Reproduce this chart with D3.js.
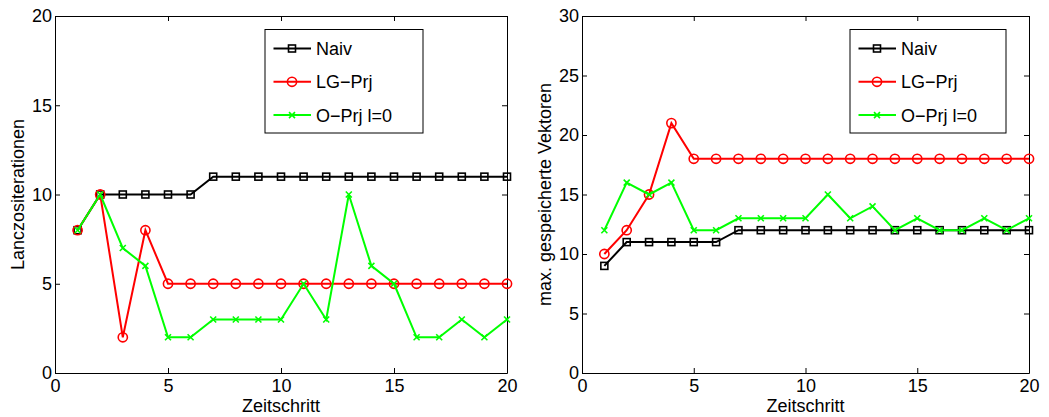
<!DOCTYPE html>
<html>
<head>
<meta charset="utf-8">
<script src="https://cdn.jsdelivr.net/npm/d3@7"></script>
<style>
  body { margin: 0; background: #fff; }
  text { font-family: "Liberation Sans", Arial, sans-serif; font-size: 18px; fill: #000; }
</style>
</head>
<body>
<svg id="chart" width="1049" height="417"></svg>
<script>
// time steps shared by both panels
let zeitschritt = [1, 2, 3, 4, 5, 6, 7, 8, 9, 10, 11, 12, 13, 14, 15, 16, 17, 18, 19, 20];
let seriesNames = ["Naiv", "LG\u2212Prj", "O\u2212Prj l=0"];
let seriesColors = ["#000000", "#ff0000", "#00ff00"];
let seriesMarkers = ["square", "circle", "cross"];

// left panel: Lanczos iterations
let lanczosNaiv = [8, 10, 10, 10, 10, 10, 11, 11, 11, 11, 11, 11, 11, 11, 11, 11, 11, 11, 11, 11];
let lanczosLG   = [8, 10, 2, 8, 5, 5, 5, 5, 5, 5, 5, 5, 5, 5, 5, 5, 5, 5, 5, 5];
let lanczosO    = [8, 10, 7, 6, 2, 2, 3, 3, 3, 3, 5, 3, 10, 6, 5, 2, 2, 3, 2, 3];

// right panel: max. stored vectors
let vektorNaiv = [9, 11, 11, 11, 11, 11, 12, 12, 12, 12, 12, 12, 12, 12, 12, 12, 12, 12, 12, 12];
let vektorLG   = [10, 12, 15, 21, 18, 18, 18, 18, 18, 18, 18, 18, 18, 18, 18, 18, 18, 18, 18, 18];
let vektorO    = [12, 16, 15, 16, 12, 12, 13, 13, 13, 13, 15, 13, 14, 12, 13, 12, 12, 13, 12, 13];

let xTicks = [0, 5, 10, 15, 20];
let yTicksLeft = [0, 5, 10, 15, 20];
let yTicksRight = [0, 5, 10, 15, 20, 25, 30];

let svg = d3.select("#chart");
svg.append("rect").attr("width", 1049).attr("height", 417).attr("fill", "#fff");

let top_y = 16, bottom_y = 373;

function drawMarker(g, kind, color) {
  if (kind == "square") {
    g.append("rect").attr("x", -3.5).attr("y", -3.5).attr("width", 7).attr("height", 7)
      .attr("fill", "none").attr("stroke", color).attr("stroke-width", 1.6);
  } else if (kind == "circle") {
    g.append("circle").attr("r", 4.6)
      .attr("fill", "none").attr("stroke", color).attr("stroke-width", 1.6);
  } else {
    g.append("path").attr("d", "M-3,-3L3,3M-3,3L3,-3")
      .attr("fill", "none").attr("stroke", color).attr("stroke-width", 1.6);
  }
}

function drawPanel(cfg) {
  let x = d3.scaleLinear().domain([0, 20]).range([cfg.left, cfg.right]);
  let y = d3.scaleLinear().domain([0, cfg.yMax]).range([bottom_y, top_y]);
  let g = svg.append("g");

  // axes with inward ticks, mirrored on top/right like matlab "box on"
  g.append("g").attr("transform", "translate(0," + bottom_y + ")")
    .call(d3.axisBottom(x).tickValues(xTicks).tickSizeInner(-5).tickSizeOuter(0).tickPadding(6));
  g.append("g").attr("transform", "translate(0," + top_y + ")")
    .call(d3.axisTop(x).tickValues(xTicks).tickSizeInner(-5).tickSizeOuter(0).tickFormat(""));
  g.append("g").attr("transform", "translate(" + cfg.left + ",0)")
    .call(d3.axisLeft(y).tickValues(cfg.yTicks).tickSizeInner(-5).tickSizeOuter(0).tickPadding(3));
  g.append("g").attr("transform", "translate(" + cfg.right + ",0)")
    .call(d3.axisRight(y).tickValues(cfg.yTicks).tickSizeInner(-5).tickSizeOuter(0).tickFormat(""));
  g.selectAll(".tick text").attr("font-size", 18).attr("font-family", "Liberation Sans, Arial, sans-serif");
  g.selectAll(".domain, .tick line").attr("stroke", "#000").attr("stroke-width", 1);

  g.append("text").attr("x", (cfg.left + cfg.right) / 2).attr("y", 412)
    .attr("text-anchor", "middle").text("Zeitschritt");
  g.append("text").attr("transform", "translate(" + cfg.yLabelX + "," + (top_y + bottom_y) / 2 + ") rotate(-90)")
    .attr("text-anchor", "middle").text(cfg.yLabel);

  let line = d3.line().x((d, i) => x(zeitschritt[i])).y(d => y(d));
  cfg.series.forEach(function(values, k) {
    let s = g.append("g");
    s.append("path").datum(values).attr("d", line)
      .attr("fill", "none").attr("stroke", seriesColors[k]).attr("stroke-width", 2);
    values.forEach(function(v, i) {
      let m = s.append("g").attr("transform", "translate(" + x(zeitschritt[i]) + "," + y(v) + ")");
      drawMarker(m, seriesMarkers[k], seriesColors[k]);
    });
  });

  // legend
  let lg = g.append("g").attr("transform", "translate(" + cfg.legendX + ",29.5)");
  lg.append("rect").attr("width", cfg.legendW).attr("height", 103.5)
    .attr("fill", "#fff").attr("stroke", "#000").attr("stroke-width", 1);
  seriesNames.forEach(function(name, k) {
    let rowY = 19 + k * 33.3;
    lg.append("line").attr("x1", 8.5).attr("x2", 46).attr("y1", rowY).attr("y2", rowY)
      .attr("stroke", seriesColors[k]).attr("stroke-width", 2);
    let m = lg.append("g").attr("transform", "translate(27," + rowY + ")");
    drawMarker(m, seriesMarkers[k], seriesColors[k]);
    lg.append("text").attr("x", 51).attr("y", rowY + 6.5).text(name);
  });
}

drawPanel({
  left: 55, right: 507, yMax: 20, yTicks: yTicksLeft,
  yLabel: "Lanczositerationen", yLabelX: 24,
  legendX: 265, legendW: 158,
  series: [lanczosNaiv, lanczosLG, lanczosO]
});
drawPanel({
  left: 582, right: 1029, yMax: 30, yTicks: yTicksRight,
  yLabel: "max. gespeicherte Vektoren", yLabelX: 551,
  legendX: 850, legendW: 156,
  series: [vektorNaiv, vektorLG, vektorO]
});
</script>
</body>
</html>
